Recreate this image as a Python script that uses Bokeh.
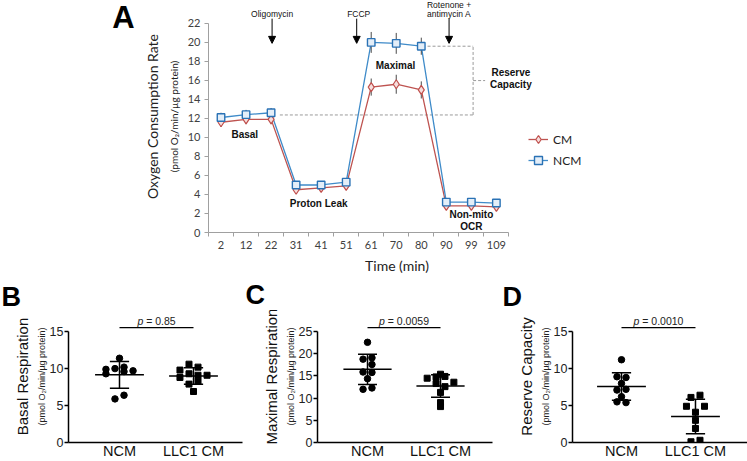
import numpy as np
from bokeh.plotting import figure
from bokeh.layouts import column, row
from bokeh.models import (Range1d, FixedTicker, LinearAxis, Label, Arrow, NormalHead,
                          Legend, LegendItem, CustomJSTickFormatter)
from bokeh.embed import file_html
from bokeh.resources import INLINE
from bokeh.core.properties import value

# ---------------- Panel A data ----------------
times = ["2", "12", "22", "31", "41", "51", "61", "70", "80", "90", "99", "109"]
ncm_ocr = [12.1, 12.4, 12.6, 5.0, 5.0, 5.3, 20.0, 19.9, 19.6, 3.2, 3.2, 3.1]
ncm_err = [0.5, 0.5, 0.5, 0.4, 0.4, 0.4, 1.1, 1.1, 0.9, 0.4, 0.4, 0.4]
cm_ocr = [11.6, 11.9, 11.9, 4.5, 4.7, 4.9, 15.3, 15.6, 15.0, 2.8, 2.8, 2.7]
cm_err = [0.5, 0.5, 0.5, 0.3, 0.3, 0.3, 0.9, 1.0, 0.9, 0.3, 0.3, 0.3]
a_yticks = [0, 2, 4, 6, 8, 10, 12, 14, 16, 18, 20, 22]

# ---------------- Panels B-D data ----------------
groups = ["NCM", "LLC1 CM"]
basal_ncm = [11.4, 9.9, 10.0, 10.2, 9.3, 9.6, 9.7, 5.9, 6.4]
basal_llc = [10.6, 10.2, 9.8, 8.8, 9.3, 9.1, 9.1, 8.3, 7.9, 6.9]
maximal_ncm = [22.6, 18.8, 19.1, 17.6, 15.9, 15.8, 14.4, 12.0, 12.3]
maximal_llc = [15.4, 14.5, 14.8, 14.9, 13.6, 13.3, 11.3, 9.0, 8.1, 12.6]
reserve_ncm = [11.2, 8.9, 8.8, 8.0, 7.1, 7.2, 6.2, 5.5, 5.4]
reserve_llc = [6.1, 6.4, 4.9, 4.9, 4.1, 3.0, 1.9, 0.1, 0.3]
p_values = ["0.85", "0.0059", "0.0010"]
panel_letters = ["B", "C", "D"]

# scatter-column slot of each dot (beeswarm arrangement)
basal_ncm_slot = [0, -1.5, -0.5, 0.5, -1.5, 0.5, 1.5, -0.5, 0.5]
basal_llc_slot = [-0.5, 0.5, -1.5, -1.5, -0.5, 0.5, 1.5, 0.5, -0.5, 0]
maximal_ncm_slot = [0, -0.5, 0.5, 0.5, -0.5, 0.5, 0, -0.5, 0.5]
maximal_llc_slot = [0, -1.5, -0.5, 0.5, 1.5, -0.5, 0, 0, 0, 0.5]
reserve_ncm_slot = [0, -0.5, 0.5, 0, -0.5, 0.5, 0, -0.5, 0.5]
reserve_llc_slot = [-0.5, 0.5, -1, 1, 0, 0, 0, -0.5, 0.5]

XL = "Lato"
AR = "Liberation Sans"


def blank_fig(width, height, bottom=0):
    f = figure(width=width, height=height, x_range=Range1d(0, width), y_range=Range1d(0, height - bottom),
               x_axis_location=None, y_axis_location=None, output_backend="svg",
               toolbar_location=None, min_border=0, min_border_bottom=bottom,
               outline_line_color=None)
    f.grid.visible = False
    return f


# ================= Panel A =================
fa = blank_fig(140, 276, bottom=43)
fa.text(x=[123], y=[233 - 17.5], text=["A"], text_font=value(AR), text_font_size="31px",
        text_font_style="bold", text_baseline="middle", text_align="center", text_color="#000000")

pa = figure(width=607, height=276, x_range=Range1d(-0.5, 14.56), y_range=Range1d(0, 24.41),
            output_backend="svg", toolbar_location=None,
            min_border_left=66, min_border_right=162, min_border_top=0, min_border_bottom=43,
            outline_line_color=None)
pa.grid.visible = False

idx = list(range(len(times)))
xa = pa.xaxis[0]
xa.ticker = FixedTicker(ticks=idx, minor_ticks=[i - 0.5 for i in range(len(times) + 1)])
xa.formatter = CustomJSTickFormatter(args=dict(labels=times),
                                     code="const i = Math.round(tick); return (i >= 0 && i < labels.length) ? labels[i] : '';")
xa.bounds = (-0.5, 11.5)
xa.axis_line_color = "#A0A0A0"
xa.major_tick_line_color = None
xa.major_tick_out = 4
xa.minor_tick_line_color = "#A0A0A0"
xa.minor_tick_out = 4
xa.minor_tick_in = 0
xa.major_label_text_font = XL
xa.major_label_text_font_size = "11px"
xa.major_label_text_color = "#404040"
xa.major_label_standoff = 4
xa.axis_label = "Time (min)"
xa.axis_label_text_font = XL
xa.axis_label_text_font_size = "14px"
xa.axis_label_text_font_style = "normal"
xa.axis_label_text_color = "#222222"
xa.axis_label_standoff = 5

ya = pa.yaxis[0]
ya.ticker = FixedTicker(ticks=a_yticks)
ya.bounds = (0, 22)
ya.axis_line_color = "#A0A0A0"
ya.major_tick_line_color = "#A0A0A0"
ya.major_tick_out = 4
ya.major_tick_in = 0
ya.minor_tick_line_color = None
ya.major_label_text_font = XL
ya.major_label_text_font_size = "11px"
ya.major_label_text_color = "#404040"
ya.major_label_standoff = 4
ya.axis_label = "(pmol O\u2082/min/\u00b5g protein)"
ya.axis_label_text_font = XL
ya.axis_label_text_font_size = "10px"
ya.axis_label_text_font_style = "normal"
ya.axis_label_text_color = "#222222"
ya.axis_label_standoff = 5

ya2 = LinearAxis(ticker=FixedTicker(ticks=[]), axis_line_color=None, major_tick_line_color=None,
                 minor_tick_line_color=None, major_tick_out=0, major_tick_in=0,
                 major_label_standoff=0, major_label_text_font_size="0px",
                 axis_label="Oxygen Consumption Rate", axis_label_text_font=XL,
                 axis_label_text_font_size="14px", axis_label_text_font_style="normal",
                 axis_label_text_color="#222222", axis_label_standoff=4)
pa.add_layout(ya2, "left")

# reserve capacity bracket (dashed)
base_lvl = float(np.mean(ncm_ocr[0:3]))
top_lvl = ncm_ocr[8]
mid_lvl = (base_lvl + top_lvl) / 2
pa.multi_line(xs=[[2.35, 10.07], [8.25, 10.07], [10.07, 10.07], [10.07, 10.55]],
              ys=[[base_lvl, base_lvl], [top_lvl, top_lvl], [base_lvl, top_lvl], [mid_lvl, mid_lvl]],
              line_color="#9A9A9A", line_width=1, line_dash="3 2")

cm_line = pa.line(idx, cm_ocr, line_color="#BE5350", line_width=1.3)
ncm_line = pa.line(idx, ncm_ocr, line_color="#3F8BC9", line_width=1.3)

pa.segment(idx, [v - e for v, e in zip(ncm_ocr, ncm_err)], idx, [v + e for v, e in zip(ncm_ocr, ncm_err)],
           line_color="#4A4A4A", line_width=1)
pa.segment(idx, [v - e for v, e in zip(cm_ocr, cm_err)], idx, [v + e for v, e in zip(cm_ocr, cm_err)],
           line_color="#4A4A4A", line_width=1)

cm_pts = pa.scatter(idx, cm_ocr, marker="diamond", size=9, line_color="#C0504D",
                    fill_color="#F6DEDD", line_width=1.2)
ncm_pts = pa.scatter(idx, ncm_ocr, marker="square", size=7.5, line_color="#2A72B5",
                     fill_color="#E4EEF8", line_width=1.4)

legend = Legend(items=[LegendItem(label="CM", renderers=[cm_line, cm_pts]),
                       LegendItem(label="NCM", renderers=[ncm_line, ncm_pts])],
                location=(320, 62), orientation="vertical", border_line_color=None,
                background_fill_alpha=0, padding=0, margin=0, spacing=1,
                glyph_width=20, glyph_height=20, label_height=20, label_standoff=5,
                label_text_font=XL, label_text_font_size="12px", label_text_color="#222222")
pa.add_layout(legend)


def alabel(x, y, text, size="10px", style="bold", align="center"):
    pa.add_layout(Label(x=x, y=y, text=text, text_font=AR, text_font_size=size,
                        text_font_style=style, text_align=align, text_baseline="middle",
                        text_color="#111111"))


alabel(0.95, 10.35, "Basal")
alabel(3.9, 3.1, "Proton Leak")
alabel(6.97, 17.6, "Maximal")
alabel(11.58, 16.85, "Reserve")
alabel(11.58, 15.6, "Capacity")
alabel(10.0, 1.9, "Non-mito")
alabel(10.0, 0.65, "OCR")

alabel(2.04, 22.94, "Oligomycin", size="8.5px", style="normal")
alabel(5.5, 22.94, "FCCP", size="8.5px", style="normal")
alabel(9.11, 23.93, "Rotenone +", size="8.5px", style="normal")
alabel(9.11, 22.94, "antimycin A", size="8.5px", style="normal")
for xpos in [2.04, 5.42, 9.11]:
    pa.add_layout(Arrow(end=NormalHead(size=7, fill_color="#000000", line_color="#000000"),
                        x_start=xpos, y_start=22.5, x_end=xpos, y_end=19.9,
                        line_color="#000000", line_width=1))

# ================= Panels B-D =================
SLOT_W = 0.122
STRIP_H = 34
PANEL_H = 461 - 276 - STRIP_H


def dot_panel(width, left, right, xr, axis_top, ystep, title, ncm_vals, ncm_slot,
              llc_vals, llc_slot, pval):
    ymax = axis_top * 131.0 / 110.0
    p = figure(width=width, height=PANEL_H, x_range=Range1d(*xr), y_range=Range1d(0, ymax),
               output_backend="svg", toolbar_location=None,
               min_border_left=left, min_border_right=right, min_border_top=0,
               min_border_bottom=17, outline_line_color=None)
    p.grid.visible = False

    xb = p.xaxis[0]
    xb.ticker = FixedTicker(ticks=[0.5, 1.5])
    xb.formatter = CustomJSTickFormatter(args=dict(labels=groups),
                                         code="const i = Math.round(tick - 0.5); return (i >= 0 && i < labels.length) ? labels[i] : '';")
    xb.axis_line_color = "#000000"
    xb.axis_line_width = 1.5
    xb.major_tick_line_color = None
    xb.major_tick_out = 0
    xb.minor_tick_line_color = None
    xb.major_label_text_font = AR
    xb.major_label_text_font_size = "14.5px"
    xb.major_label_text_color = "#111111"
    xb.major_label_standoff = 0

    yb = p.yaxis[0]
    yb.ticker = FixedTicker(ticks=list(range(0, axis_top + 1, ystep)))
    yb.bounds = (0, axis_top)
    yb.axis_line_color = "#000000"
    yb.axis_line_width = 1.5
    yb.major_tick_line_color = "#000000"
    yb.major_tick_line_width = 1.5
    yb.major_tick_out = 4
    yb.major_tick_in = 0
    yb.minor_tick_line_color = None
    yb.major_label_text_font = AR
    yb.major_label_text_font_size = "12.5px"
    yb.major_label_text_color = "#222222"
    yb.major_label_standoff = 1
    yb.axis_label = "(pmol O\u2082/min/\u00b5g protein)"
    yb.axis_label_text_font = AR
    yb.axis_label_text_font_size = "9px"
    yb.axis_label_text_font_style = "normal"
    yb.axis_label_text_color = "#222222"
    yb.axis_label_standoff = 0

    yb2 = LinearAxis(ticker=FixedTicker(ticks=[]), axis_line_color=None, major_tick_line_color=None,
                     minor_tick_line_color=None, major_tick_out=0, major_tick_in=0,
                     major_label_standoff=0, major_label_text_font_size="0px",
                     axis_label=title, axis_label_text_font=AR, bounds=(0, axis_top),
                     axis_label_text_font_size="15px", axis_label_text_font_style="normal",
                     axis_label_text_color="#111111", axis_label_standoff=3)
    p.add_layout(yb2, "left")

    for gi, (vals, slots, marker, msize) in enumerate([(ncm_vals, ncm_slot, "circle", 6.5),
                                                      (llc_vals, llc_slot, "square", 6)]):
        c = gi + 0.5
        xs = [c + s * SLOT_W for s in slots]
        p.scatter(xs, vals, marker=marker, size=msize, fill_color="#000000", line_color="#000000")
        m = float(np.mean(vals))
        sd = float(np.std(vals, ddof=1))
        p.segment([c - 0.33, c, c - 0.13, c - 0.13], [m, m - sd, m + sd, m - sd],
                  [c + 0.33, c, c + 0.13, c + 0.13], [m, m + sd, m + sd, m - sd],
                  line_color="#000000", line_width=1.5)

    y_line = axis_top * 114.0 / 110.0
    y_text = axis_top * 121.0 / 110.0
    p.segment([0.5], [y_line], [1.5], [y_line], line_color="#000000", line_width=1.2)
    fs = 10.5
    n_dig = sum(ch.isdigit() for ch in pval)
    rest = "= " + pval
    rest_w = (0.584 + 0.278 + 0.278 + 0.556 * n_dig) * fs
    p_w = 0.556 * fs
    gap = 0.278 * fs
    start = -(p_w + gap + rest_w) / 2.0
    p.add_layout(Label(x=1.0, y=y_text, text="p", x_offset=start + p_w, text_align="right",
                       text_baseline="middle", text_font=AR, text_font_size=f"{fs}px",
                       text_font_style="italic", text_color="#222222"))
    p.add_layout(Label(x=1.0, y=y_text, text=rest, x_offset=start + p_w + gap, text_align="left",
                       text_baseline="middle", text_font=AR, text_font_size=f"{fs}px",
                       text_font_style="normal", text_color="#222222"))
    return p


pb = dot_panel(244, 68, 2, (-0.189, 2.162), 15, 5, "Basal Respiration",
               basal_ncm, basal_ncm_slot, basal_llc, basal_llc_slot, p_values[0])
pc = dot_panel(251, 73, 3, (-0.185, 2.212), 25, 5, "Maximal Respiration",
               maximal_ncm, maximal_ncm_slot, maximal_llc, maximal_llc_slot, p_values[1])
pd_ = dot_panel(252, 77, 0, (-0.162, 2.203), 15, 5, "Reserve Capacity",
                reserve_ncm, reserve_ncm_slot, reserve_llc, reserve_llc_slot, p_values[2])

# strip holding the panel letters B, C, D
strip = blank_fig(747, STRIP_H)
strip.text(x=[1, 245, 502], y=[STRIP_H - 20, STRIP_H - 18, STRIP_H - 20], text=panel_letters,
           text_font=value(AR), text_font_size="27px", text_font_style="bold",
           text_baseline="middle", text_align="left", text_color="#000000")

layout = column(row(fa, pa, spacing=0), strip, row(pb, pc, pd_, spacing=0), spacing=0)

with open("out.html", "w") as f:
    f.write(file_html(layout, INLINE))
